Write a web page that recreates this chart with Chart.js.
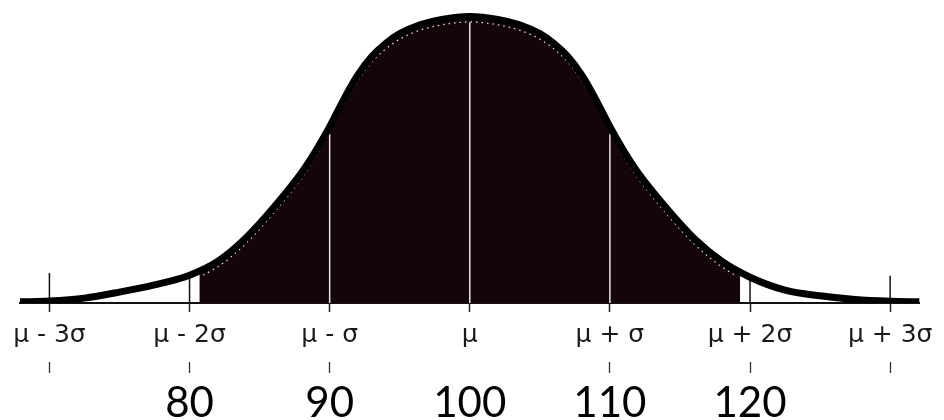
<!DOCTYPE html>
<html>
<head>
<meta charset="utf-8">
<script src="https://cdn.jsdelivr.net/npm/chart.js@4.4.1/dist/chart.umd.min.js"></script>
<style>
  html, body { margin: 0; padding: 0; background: #fff; }
  canvas { display: block; }
</style>
</head>
<body>
<canvas id="bellChart" width="944" height="420"></canvas>
<script>
// x in score units (mean 100, sd 10), y in percent of the peak height
const curveX = [67.9, 70, 72.5, 75, 77.5, 80, 82, 84, 86, 88, 89, 90, 91, 92, 93, 94, 95, 96.5, 98, 100,
                102, 103.5, 105, 106, 107, 108, 109, 110, 111, 112, 114, 116, 118, 120, 122.5, 125, 127.5, 130, 132.1];
const curveY = [0.4, 0.7, 1.7, 3.8, 6.3, 9.7, 14.5, 22.6, 33.3, 45.5, 53, 61.5, 71, 79.5, 86, 90.6, 94, 97.2, 99, 100,
                99, 97.2, 94, 90.6, 86, 79.5, 71, 61.5, 53, 45.5, 33.3, 22.6, 14.5, 9.0, 4.5, 2.5, 1.2, 0.6, 0.4];

// shaded band (roughly mu - 2 sigma .. mu + 2 sigma)
const shadeX = [80.7, 82, 84, 86, 88, 89, 90, 91, 92, 93, 94, 95, 96.5, 98, 100,
                102, 103.5, 105, 106, 107, 108, 109, 110, 111, 112, 114, 116, 118, 119.3];
const shadeY = [11.2, 14.5, 22.6, 33.3, 45.5, 53, 61.5, 71, 79.5, 86, 90.6, 94, 97.2, 99, 100,
                99, 97.2, 94, 90.6, 86, 79.5, 71, 61.5, 53, 45.5, 33.3, 22.6, 14.5, 10.6];

const tickValues = [70, 80, 90, 100, 110, 120, 130];
const sigmaLabels = ['\u03bc - 3\u03c3', '\u03bc - 2\u03c3', '\u03bc - \u03c3', '\u03bc', '\u03bc + \u03c3', '\u03bc + 2\u03c3', '\u03bc + 3\u03c3'];
const scoreLabels = ['', '80', '90', '100', '110', '120', ''];

// white lines inside the shaded area, and short dark marks on the baseline
const guideX = [90, 100, 110];
const guideTop = [59, 98, 59];
const markX = [70, 80, 120, 130];
const markTop = [10.5, 10, 9.5, 9.5];

const pts = (xs, ys) => xs.map((x, i) => ({x: x, y: ys[i]}));

const datasets = [
    {
        data: pts(curveX, curveY),
        borderColor: '#000',
        borderWidth: 7,
        pointRadius: 0,
        fill: false,
        cubicInterpolationMode: 'monotone',
        order: 0
    },
    {
        data: pts(shadeX, shadeY),
        borderColor: 'transparent',
        borderWidth: 0,
        backgroundColor: '#130508',
        fill: 'origin',
        pointRadius: 0,
        cubicInterpolationMode: 'monotone',
        order: 5
    }
];
guideX.forEach((x, i) => datasets.push({
    data: [{x: x, y: 0}, {x: x, y: guideTop[i]}],
    borderColor: '#e4e4e4',
    borderWidth: 1.5,
    pointRadius: 0,
    tension: 0,
    order: 3
}));
markX.forEach((x, i) => datasets.push({
    data: [{x: x, y: 0}, {x: x, y: markTop[i]}],
    borderColor: '#111',
    borderWidth: 1.5,
    pointRadius: 0,
    tension: 0,
    order: 1
}));

const setTicks = (axis) => { axis.ticks = tickValues.map(v => ({value: v})); };

const whiteBg = {
    id: 'whiteBg',
    beforeDraw(chart) {
        const c = chart.ctx;
        c.save();
        c.fillStyle = '#fff';
        c.fillRect(0, 0, chart.width, chart.height);
        c.restore();
    }
};

// dotted white trace just inside the curve, like the scanned original
const innerDots = {
    id: 'innerDots',
    afterDatasetDraw(chart, args) {
        if (args.index !== 1) return;
        const xs = chart.scales.x, ys = chart.scales.y;
        const line = chart.getDatasetMeta(0).dataset;
        const ctx = chart.ctx;
        const x0 = xs.getPixelForValue(shadeX[0]) + 3;
        const x1 = xs.getPixelForValue(shadeX[shadeX.length - 1]) - 3;
        ctx.save();
        ctx.beginPath();
        ctx.rect(x0, 0, x1 - x0, ys.getPixelForValue(3));
        ctx.clip();
        ctx.translate(0, 5.5);
        ctx.beginPath();
        try {
            line.updateControlPoints(chart.chartArea, 'x');
            line.path(ctx);
        } catch (e) {
            chart.getDatasetMeta(0).data.forEach((p, i) => i ? ctx.lineTo(p.x, p.y) : ctx.moveTo(p.x, p.y));
        }
        ctx.setLineDash([1.5, 4]);
        ctx.strokeStyle = 'rgba(255,255,255,0.85)';
        ctx.lineWidth = 1.3;
        ctx.stroke();
        ctx.restore();
    }
};

new Chart(document.getElementById('bellChart'), {
    type: 'line',
    data: {datasets: datasets},
    options: {
        responsive: false,
        animation: false,
        devicePixelRatio: 1,
        layout: {padding: {left: 20, right: 19, top: 5, bottom: 0}},
        plugins: {legend: {display: false}, tooltip: {enabled: false}},
        scales: {
            y: {
                type: 'linear',
                display: false,
                min: 0,
                max: 104
            },
            x: {
                type: 'linear',
                position: 'bottom',
                min: 67.9,
                max: 132.1,
                afterBuildTicks: setTicks,
                afterFit: (axis) => { axis.height = 59; },
                border: {display: true, color: '#111', width: 2},
                grid: {drawOnChartArea: false, tickLength: 9, tickWidth: 1.5, tickColor: '#222'},
                ticks: {
                    autoSkip: false,
                    maxRotation: 0,
                    padding: 11,
                    color: '#1a1a1a',
                    font: {family: 'DejaVu Sans', size: 25, lineHeight: 1},
                    callback: (v, i) => sigmaLabels[i]
                }
            },
            x2: {
                type: 'linear',
                position: 'bottom',
                min: 67.9,
                max: 132.1,
                afterBuildTicks: setTicks,
                afterFit: (axis) => { axis.height = 58; },
                border: {display: false},
                grid: {
                    drawOnChartArea: false,
                    tickLength: 11,
                    tickWidth: 1.3,
                    tickColor: (c) => (c.tick && c.tick.value === 100) ? 'rgba(0,0,0,0)' : '#333'
                },
                ticks: {
                    autoSkip: false,
                    maxRotation: 0,
                    padding: 9,
                    color: '#000',
                    font: {family: 'Lato', size: 42, lineHeight: 1},
                    callback: (v, i) => scoreLabels[i]
                }
            }
        }
    },
    plugins: [whiteBg, innerDots]
});
</script>
</body>
</html>
